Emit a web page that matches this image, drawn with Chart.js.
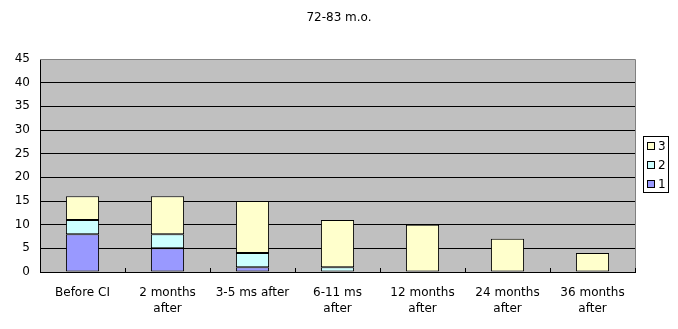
<!DOCTYPE html>
<html>
<head>
<meta charset="utf-8">
<script src="https://cdn.jsdelivr.net/npm/chart.js@4"></script>
<style>
  html, body { margin: 0; padding: 0; background: #fff; }
  #wrap { width: 678px; height: 329px; }
</style>
</head>
<body>
<div id="wrap"><canvas id="chart"></canvas></div>
<script>
const categories = ["Before CI", ["2 months", "after"], "3-5 ms after", ["6-11 ms", "after"],
                    ["12 months", "after"], ["24 months", "after"], ["36 months", "after"]];
const seriesNames = ["1", "2", "3"];
const series1 = [8, 5, 1, 0, 0, 0, 0];
const series2 = [3, 3, 3, 1, 0, 0, 0];
const series3 = [5, 8, 11, 10, 10, 7, 4];
const seriesColors = ["#9999FF", "#CCFFFF", "#FFFFCC"];
const yMax = 45;
const yStep = 5;
const titleText = "72-83 m.o.";

const FONT = "'DejaVu Sans', sans-serif";

// grey plot background, grey top/right frame, inner x ticks, title over the whole page, boxed legend
const excelLook = {
    id: "excelLook",
    beforeDraw(chart) {
        const { ctx, chartArea: a } = chart;
        ctx.save();
        ctx.fillStyle = "#C0C0C0";
        ctx.fillRect(a.left, a.top, a.right - a.left, a.bottom - a.top);
        ctx.restore();
    },
    afterDraw(chart) {
        const { ctx, chartArea: a } = chart;
        const x = chart.scales.x;
        ctx.save();
        ctx.strokeStyle = "#808080";
        ctx.lineWidth = 1;
        ctx.beginPath();
        ctx.moveTo(a.left, a.top + 0.5);
        ctx.lineTo(a.right + 0.5, a.top + 0.5);
        ctx.lineTo(a.right + 0.5, a.bottom);
        ctx.stroke();

        ctx.strokeStyle = "#000";
        ctx.beginPath();
        for (let i = 0; i <= categories.length; i++) {
            const px = Math.round(x.getPixelForValue(i - 0.5)) + 0.5;
            ctx.moveTo(px, a.bottom);
            ctx.lineTo(px, a.bottom - 4);
        }
        ctx.stroke();

        ctx.fillStyle = "#000";
        ctx.font = "12px " + FONT;
        ctx.textAlign = "center";
        ctx.textBaseline = "middle";
        ctx.fillText(titleText, chart.width / 2, 18);

        // legend, reversed order
        const sets = chart.data.datasets.slice().reverse();
        const bx = a.right + 8, by = 136, bw = 25, rowH = 19;
        const bh = sets.length * rowH - 1;
        ctx.fillStyle = "#fff";
        ctx.fillRect(bx, by, bw, bh);
        ctx.strokeStyle = "#000";
        ctx.strokeRect(bx + 0.5, by + 0.5, bw, bh);
        ctx.textAlign = "left";
        sets.forEach((ds, i) => {
            const cy = by + 10 + i * rowH;
            ctx.fillStyle = ds.backgroundColor;
            ctx.fillRect(bx + 4, cy - 4, 7, 7);
            ctx.strokeStyle = "#000";
            ctx.strokeRect(bx + 4.5, cy - 3.5, 7, 7);
            ctx.fillStyle = "#000";
            ctx.fillText(ds.label, bx + 15, cy + 1);
        });
        ctx.restore();
    }
};

function makeSet(label, data, color) {
    return {
        label: label,
        data: data,
        backgroundColor: color,
        borderColor: "#000",
        borderWidth: 1,
        borderSkipped: false,
        barPercentage: 0.39,
        categoryPercentage: 1.0
    };
}

const chart = new Chart(document.getElementById("chart"), {
    type: "bar",
    data: {
        labels: categories,
        datasets: [
            makeSet(seriesNames[0], series1, seriesColors[0]),
            makeSet(seriesNames[1], series2, seriesColors[1]),
            makeSet(seriesNames[2], series3, seriesColors[2])
        ]
    },
    options: {
        responsive: true,
        maintainAspectRatio: false,
        animation: false,
        layout: { padding: { left: 0, right: 43, top: 59, bottom: 0 } },
        plugins: {
            legend: { display: false },
            tooltip: { enabled: false },
            title: { display: false }
        },
        scales: {
            x: {
                stacked: true,
                grid: { display: false },
                border: { display: true, color: "#000", width: 1 },
                ticks: {
                    color: "#000",
                    font: { family: FONT, size: 12, lineHeight: 1.3 },
                    padding: 5,
                    maxRotation: 0,
                    autoSkip: false
                },
                afterFit(scale) { scale.height = 57; }
            },
            y: {
                stacked: true,
                min: 0,
                max: yMax,
                grid: {
                    color: (c) => (c.tick && c.tick.value === yMax ? "#808080" : "#000"),
                    lineWidth: 1,
                    drawTicks: false
                },
                border: { display: true, color: "#000", width: 1 },
                ticks: {
                    stepSize: yStep,
                    color: "#000",
                    font: { family: FONT, size: 12 },
                    padding: 10
                },
                afterFit(scale) { scale.width = 40; }
            }
        }
    },
    plugins: [excelLook]
});
</script>
</body>
</html>
